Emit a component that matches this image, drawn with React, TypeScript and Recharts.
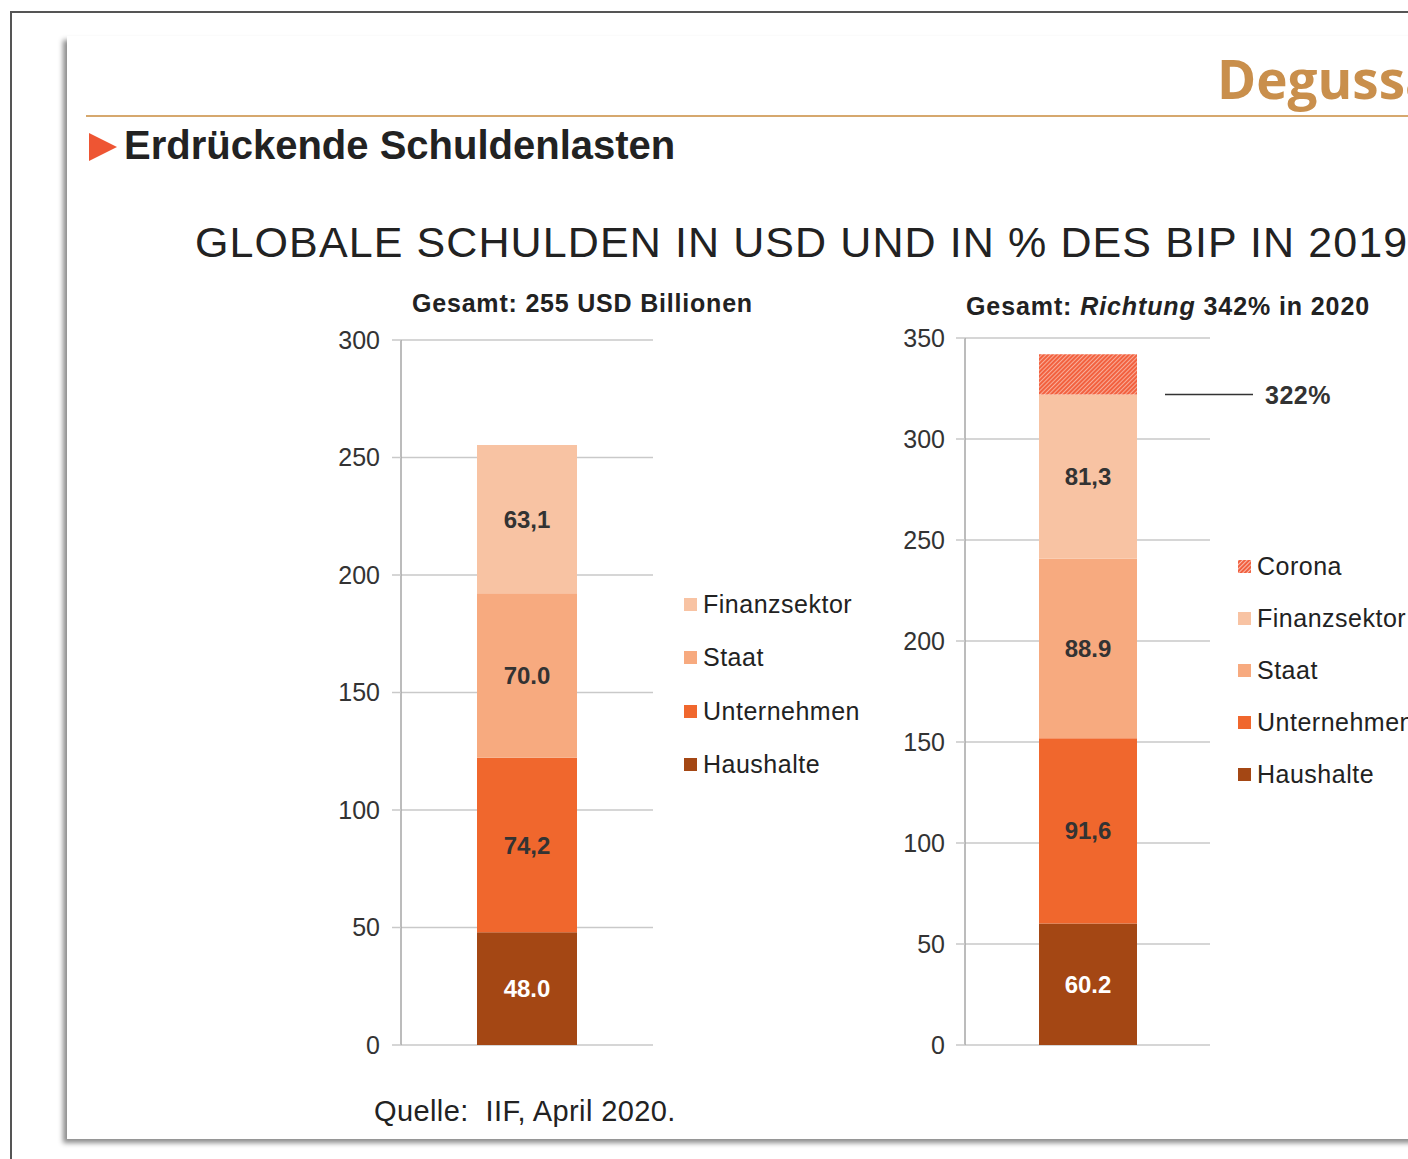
import React from "react";
import {
  BarChart,
  Bar,
  XAxis,
  YAxis,
  CartesianGrid,
  LabelList,
  Legend,
  ReferenceLine,
} from "recharts";

// Sektoren von unten nach oben
const sectors = ["Haushalte", "Unternehmen", "Staat", "Finanzsektor"];
const colors: Record<string, string> = {
  Haushalte: "#a44714",
  Unternehmen: "#f0672d",
  Staat: "#f7aa7f",
  Finanzsektor: "#f8c3a3",
  Corona: "url(#coronaHatch)",
};

// Links: USD Billionen
const usdValues = [48.0, 74.2, 70.0, 63.1];
const usdLabels = ["48.0", "74,2", "70.0", "63,1"];
const usdTicks = [0, 50, 100, 150, 200, 250, 300];

// Rechts: % des BIP
const gdpValues = [60.2, 91.6, 88.9, 81.3];
const gdpLabels = ["60.2", "91,6", "88.9", "81,3"];
const coronaValue = 20;
const gdpTotal2019 = 322;
const gdpTicks = [0, 50, 100, 150, 200, 250, 300, 350];

const FONT = "'Liberation Sans', Arial, Helvetica, sans-serif";
const GRID = "#c9c9c9";
const AXIS = "#a6a6a6";

function buildRow(values: number[], labels: string[]) {
  const row: Record<string, string | number> = { name: "2019" };
  sectors.forEach((s, i) => {
    row[s] = values[i];
    row[s + "Label"] = labels[i];
  });
  return row;
}

const usdData = [buildRow(usdValues, usdLabels)];
const gdpData = [{ ...buildRow(gdpValues, gdpLabels), Corona: coronaValue }];

function LegendList({ items, gap }: { items: string[]; gap: number }) {
  return (
    <div style={{ fontFamily: FONT, fontSize: 25, color: "#222", letterSpacing: 0.5, whiteSpace: "nowrap" }}>
      {items.map((name) => (
        <div key={name} style={{ display: "flex", alignItems: "center", height: gap }}>
          <svg width={13} height={13} style={{ marginRight: 6, flex: "none" }}>
            {name === "Corona" ? (
              <>
                <defs>
                  <pattern id="legendHatch" width="3" height="3" patternUnits="userSpaceOnUse" patternTransform="rotate(45)">
                    <rect width="3" height="3" fill="#f1603f" />
                    <line x1="0" y1="0" x2="0" y2="3" stroke="#fff" strokeWidth="1.2" />
                  </pattern>
                </defs>
                <rect width={13} height={13} fill="url(#legendHatch)" />
              </>
            ) : (
              <rect width={13} height={13} fill={colors[name]} />
            )}
          </svg>
          <span>{name}</span>
        </div>
      ))}
    </div>
  );
}

const tickStyle = { fontSize: 25, fill: "#333", fontFamily: FONT };

function labelFor(name: string) {
  return (
    <LabelList
      dataKey={name + "Label"}
      position="center"
      style={{
        fontSize: 24,
        fontWeight: 700,
        fontFamily: FONT,
        fill: name === "Haushalte" ? "#fff" : "#333",
      }}
    />
  );
}

function UsdChart() {
  return (
    <BarChart
      width={560}
      height={760}
      data={usdData}
      margin={{ top: 20, right: 207, bottom: 35, left: 11 }}
      barSize={100}
    >
      <CartesianGrid horizontal vertical={false} stroke={GRID} strokeWidth={1.5} />
      <XAxis dataKey="name" hide />
      <YAxis
        width={90}
        domain={[0, 300]}
        ticks={usdTicks}
        tick={tickStyle}
        tickSize={9}
        tickMargin={12}
        axisLine={{ stroke: AXIS, strokeWidth: 1.5 }}
        tickLine={{ stroke: GRID, strokeWidth: 1.5 }}
      />
      {sectors.map((s) => (
        <Bar key={s} dataKey={s} stackId="a" fill={colors[s]} isAnimationActive={false}>
          {labelFor(s)}
        </Bar>
      ))}
      <Legend
        layout="vertical"
        align="center"
        verticalAlign="middle"
        wrapperStyle={{ left: 384, top: 258, width: 200 }}
        content={() => <LegendList items={[...sectors].reverse()} gap={53.3} />}
      />
    </BarChart>
  );
}

function CalloutShape(props: any) {
  const { x2, y1 } = props;
  return (
    <g>
      <line x1={x2 - 45} y1={y1} x2={x2 + 43} y2={y1} stroke="#333" strokeWidth={1.5} />
      <text
        x={x2 + 55}
        y={y1}
        dy={9}
        fontSize={25}
        fontWeight={700}
        fontFamily={FONT}
        letterSpacing={0.5}
        fill="#333"
      >
        {gdpTotal2019}%
      </text>
    </g>
  );
}

function GdpChart() {
  return (
    <BarChart
      width={538}
      height={760}
      data={gdpData}
      margin={{ top: 20, right: 198, bottom: 33, left: 5 }}
      barSize={98}
    >
      <defs>
        <pattern id="coronaHatch" width="3" height="3" patternUnits="userSpaceOnUse" patternTransform="rotate(45)">
          <rect width="3" height="3" fill="#f2613f" />
          <line x1="0" y1="0" x2="0" y2="3" stroke="#fde0d6" strokeWidth="1.2" />
        </pattern>
      </defs>
      <CartesianGrid horizontal vertical={false} stroke={GRID} strokeWidth={1.5} />
      <XAxis dataKey="name" hide />
      <YAxis
        width={90}
        domain={[0, 350]}
        ticks={gdpTicks}
        tick={tickStyle}
        tickSize={9}
        tickMargin={11}
        axisLine={{ stroke: AXIS, strokeWidth: 1.5 }}
        tickLine={{ stroke: GRID, strokeWidth: 1.5 }}
      />
      {sectors.map((s) => (
        <Bar key={s} dataKey={s} stackId="a" fill={colors[s]} isAnimationActive={false}>
          {labelFor(s)}
        </Bar>
      ))}
      <Bar dataKey="Corona" stackId="a" fill={colors.Corona} isAnimationActive={false} />
      <ReferenceLine y={gdpTotal2019} stroke="none" ifOverflow="visible" shape={CalloutShape} />
      <Legend
        layout="vertical"
        align="center"
        verticalAlign="middle"
        wrapperStyle={{ left: 368, top: 222, width: 200 }}
        content={() => <LegendList items={["Corona", ...[...sectors].reverse()]} gap={52.2} />}
      />
    </BarChart>
  );
}

export default function App() {
  return (
    <div
      style={{
        position: "absolute",
        left: 0,
        top: 0,
        width: 1408,
        height: 1159,
        overflow: "hidden",
        background: "#fff",
        fontFamily: FONT,
      }}
    >
      {/* äußerer Rahmen */}
      <div
        style={{
          position: "absolute",
          left: 10,
          top: 11,
          width: 1500,
          height: 1300,
          borderLeft: "2px solid #555",
          borderTop: "2px solid #555",
        }}
      />
      {/* Folie */}
      <div
        style={{
          position: "absolute",
          left: 67,
          top: 36,
          width: 1500,
          height: 1103,
          background: "#fff",
          boxShadow: "-4px 4px 5px rgba(0,0,0,0.45)",
        }}
      />
      <div
        style={{
          position: "absolute",
          left: 1217,
          top: 42,
          fontFamily: "'Open Sans', sans-serif",
          fontWeight: 700,
          fontSize: 53,
          color: "#c98f4c",
          whiteSpace: "nowrap",
        }}
      >
        Degussa
      </div>
      <div style={{ position: "absolute", left: 86, top: 115, width: 1400, height: 2, background: "#d6a86e" }} />
      <svg style={{ position: "absolute", left: 88, top: 132 }} width={30} height={30}>
        <polygon points="1,1 29,15 1,29" fill="#ee5533" />
      </svg>
      <div
        style={{
          position: "absolute",
          left: 124,
          top: 123,
          fontSize: 40,
          fontWeight: 700,
          color: "#222",
          whiteSpace: "nowrap",
        }}
      >
        Erdrückende Schuldenlasten
      </div>
      <div
        style={{
          position: "absolute",
          left: 195,
          top: 218,
          fontSize: 43,
          letterSpacing: 1.1,
          color: "#222",
          whiteSpace: "nowrap",
        }}
      >
        GLOBALE SCHULDEN IN USD UND IN % DES BIP IN 2019
      </div>
      <div
        style={{
          position: "absolute",
          left: 412,
          top: 289,
          fontSize: 25,
          letterSpacing: 0.8,
          fontWeight: 700,
          color: "#222",
          whiteSpace: "nowrap",
        }}
      >
        Gesamt: 255 USD Billionen
      </div>
      <div
        style={{
          position: "absolute",
          left: 966,
          top: 292,
          fontSize: 25,
          letterSpacing: 0.9,
          fontWeight: 700,
          color: "#222",
          whiteSpace: "nowrap",
        }}
      >
        Gesamt: <i>Richtung</i> 342% in 2020
      </div>
      <div style={{ position: "absolute", left: 300, top: 320 }}>
        <UsdChart />
      </div>
      <div style={{ position: "absolute", left: 870, top: 318 }}>
        <GdpChart />
      </div>
      <div
        style={{
          position: "absolute",
          left: 374,
          top: 1095,
          fontSize: 29,
          letterSpacing: 0.4,
          color: "#222",
          whiteSpace: "pre",
        }}
      >
        {"Quelle:  IIF, April 2020."}
      </div>
    </div>
  );
}
